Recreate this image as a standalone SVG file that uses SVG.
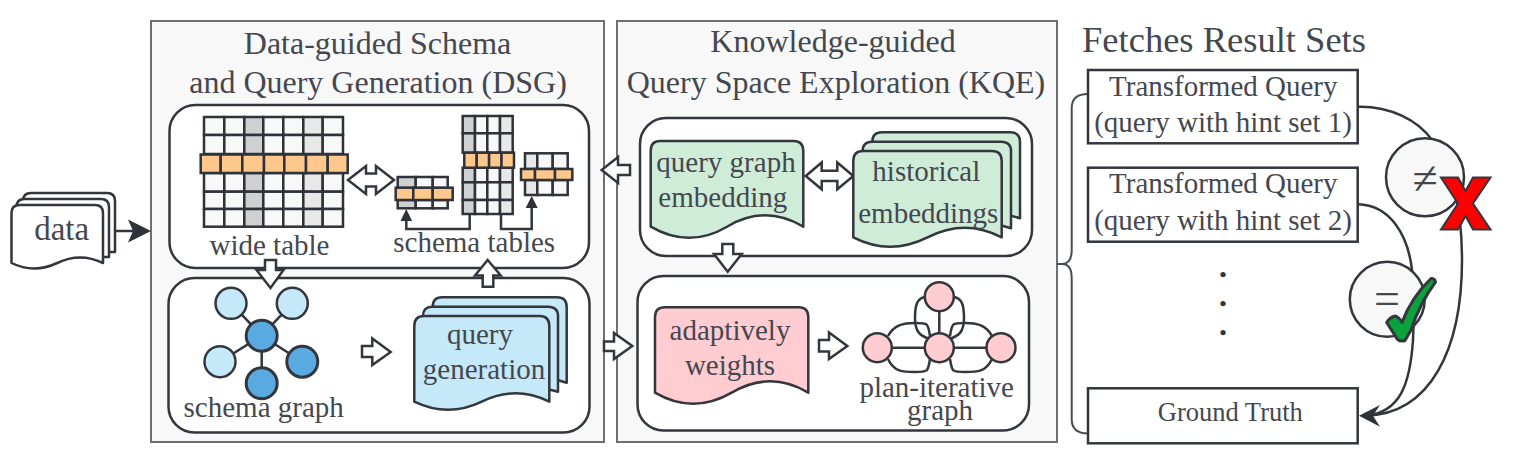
<svg xmlns="http://www.w3.org/2000/svg" width="1530" height="462" viewBox="0 0 1530 462">
<style>
text{font-family:"Liberation Serif","Times New Roman",serif;fill:#45474f;text-anchor:middle;font-size:29px}
.panel{fill:#f8f8f8;stroke:#6e6e73;stroke-width:2}
.box{fill:#fff;stroke:#33363c;stroke-width:2.5}
.blk{fill:#fff;stroke:#33363c;stroke-width:2.5;stroke-linejoin:miter}
.ln{fill:none;stroke:#33363c;stroke-width:2.5}
.hd{fill:#2f3238;stroke:none}
.doc{stroke:#33363c;stroke-width:2.5;stroke-linejoin:round}
.w{fill:#fff}.bl{fill:#c5e9f8}.gr{fill:#ceecd8}.pk{fill:#ffccd2}
.c{fill:#f8f8f8;stroke:#33363c;stroke-width:2.5}
.dk{fill:#5aa9e0;stroke:#33363c;stroke-width:3}
.lt{fill:#c5e9f8;stroke:#33363c;stroke-width:2.5}
.pc{fill:#ffccd2;stroke:#33363c;stroke-width:2.5}
.g{stroke:#2f3238;stroke-width:2.5}
.f0{fill:#f8f8f8}.f1{fill:#d0d0d3}.f2{fill:#e8e8e9}.o{fill:#fec88c}
.rct{fill:#fff;stroke:#33363c;stroke-width:2.5}
.t{font-size:32px}
.dot{font-size:24px;fill:#33363c;stroke:#33363c;stroke-width:2.5}
</style>
<g id="panel-dsg"><rect class="panel" x="151" y="21" width="453" height="421"/>
<text class="t" x="377.500" y="54">Data-guided Schema</text>
<text class="t" x="378" y="93">and Query Generation (DSG)</text></g>
<g id="panel-kqe"><rect class="panel" x="617" y="21" width="440" height="421"/>
<text class="t" x="833" y="52">Knowledge-guided</text>
<text class="t" x="836" y="93">Query Space Exploration (KQE)</text></g>
<g id="box-tables"><rect class="box" x="169.5" y="105" width="419.5" height="163" rx="26"/></g>
<g id="box-graph"><rect class="box" x="168.5" y="278" width="421" height="154.500" rx="26"/></g>
<g id="box-embed"><rect class="box" x="640" y="118" width="392" height="138" rx="26"/></g>
<g id="box-plan"><rect class="box" x="637.500" y="276" width="391.500" height="154.500" rx="26"/></g>
<g id="title-fetch"><text x="1224" y="52" style="font-size:36.500px">Fetches Result Sets</text></g>
<g id="connectors">
<path class="ln" d="M109,231H135"/><path class="hd" d="M151,231L128,219.500L133,231L128,242.500Z"/>
<path class="ln" d="M469.700,214V229H406.300V214"/><path class="hd" d="M406.300,209L400.500,221H412.100Z"/>
<path class="ln" d="M501,214V229H531.700V200"/><path class="hd" d="M531.700,196L525.700,208H537.700Z"/>
<path class="blk" d="M348,180L366,166V173.500H376V166L394,180L376,194V186.500H366V194Z"/>
<path class="blk" d="M265,260H276V270H283.500L270.500,288L256.500,270H265Z"/>
<path class="blk" d="M487.700,260L500.700,275.500H493.300V286.700H482.700V275.500H475Z"/>
<path class="blk" d="M362,346H372.300V338.500L390.700,352L372.300,365V357H362Z"/>
<path class="blk" d="M604,341.500H614V333L632.300,346L614,359V351H604Z"/>
<path class="blk" d="M601.700,170L618,157V165H630V175H618V183Z"/>
<path class="blk" d="M805.700,176L821.700,162.500V170.700H837.300V162.500L853.300,176L837.300,189.300V181H821.700V189.300Z"/>
<path class="blk" d="M722.300,244H733.300V254H741.700L727.700,271.700L714,254H722.300Z"/>
<path class="blk" d="M819,340H829V332.500L847.300,346L829,359V351.500H819Z"/>
<path d="M1057,264H1062C1069,264 1071.700,258 1071.700,250V108C1071.700,99 1077,94 1088,94M1062,264C1069,264 1071.700,270 1071.700,278V419C1071.700,428 1077,433.500 1088,433.500" fill="none" stroke="#4a4c55" stroke-width="2"/>
<path class="ln" d="M1358,106.700C1390,106 1418,120 1432,140C1450,170 1462,200 1462,260C1462,350 1430,414 1366,415.700"/>
<path class="ln" d="M1358,204.300C1390,205 1408,235 1412,270C1414,300 1414,320 1413,340C1410,385 1400,412 1366,415.700"/>
<path class="hd" d="M1359,415.700L1380,405L1373,415.700L1380,426.700Z"/>
</g>
<g id="node-data">
<path class="doc w" d="M23,201Q23,193 31,193H107Q115,193 115,201V252L23,252Z"/>
<path class="doc w" d="M16.500,207Q16.500,199 24.500,199H101Q109,199 109,207V257L16.500,257Z"/>
<path class="doc w" d="M11.500,263V213Q11.500,205 19.500,205H95Q103,205 103,213V263Q80,252 57.250,263Q34,274 11.500,263Z"/>
<text x="61.700" y="239.500" style="font-size:33px">data</text>
</g>
<g id="node-wide-table">
<g class="g">
<rect class="f0" x="204" y="117" width="20.300" height="18"/><rect class="f0" x="224.300" y="117" width="20" height="18"/><rect class="f1" x="244.300" y="117" width="19" height="18"/><rect class="f0" x="263.300" y="117" width="20" height="18"/><rect class="f0" x="283.300" y="117" width="20" height="18"/><rect class="f2" x="303.300" y="117" width="19.400" height="18"/><rect class="f0" x="322.700" y="117" width="20.300" height="18"/>
<rect class="f0" x="204" y="135" width="20.300" height="19"/><rect class="f0" x="224.300" y="135" width="20" height="19"/><rect class="f1" x="244.300" y="135" width="19" height="19"/><rect class="f0" x="263.300" y="135" width="20" height="19"/><rect class="f0" x="283.300" y="135" width="20" height="19"/><rect class="f2" x="303.300" y="135" width="19.400" height="19"/><rect class="f0" x="322.700" y="135" width="20.300" height="19"/>
<rect class="f0" x="204" y="173" width="20.300" height="18.700"/><rect class="f0" x="224.300" y="173" width="20" height="18.700"/><rect class="f1" x="244.300" y="173" width="19" height="18.700"/><rect class="f0" x="263.300" y="173" width="20" height="18.700"/><rect class="f0" x="283.300" y="173" width="20" height="18.700"/><rect class="f2" x="303.300" y="173" width="19.400" height="18.700"/><rect class="f0" x="322.700" y="173" width="20.300" height="18.700"/>
<rect class="f0" x="204" y="191.700" width="20.300" height="17.300"/><rect class="f0" x="224.300" y="191.700" width="20" height="17.300"/><rect class="f1" x="244.300" y="191.700" width="19" height="17.300"/><rect class="f0" x="263.300" y="191.700" width="20" height="17.300"/><rect class="f0" x="283.300" y="191.700" width="20" height="17.300"/><rect class="f2" x="303.300" y="191.700" width="19.400" height="17.300"/><rect class="f0" x="322.700" y="191.700" width="20.300" height="17.300"/>
<rect class="f0" x="204" y="209" width="20.300" height="17.700"/><rect class="f0" x="224.300" y="209" width="20" height="17.700"/><rect class="f1" x="244.300" y="209" width="19" height="17.700"/><rect class="f0" x="263.300" y="209" width="20" height="17.700"/><rect class="f0" x="283.300" y="209" width="20" height="17.700"/><rect class="f2" x="303.300" y="209" width="19.400" height="17.700"/><rect class="f0" x="322.700" y="209" width="20.300" height="17.700"/>
<rect class="o" x="200.700" y="154.500" width="20" height="18.500"/><rect class="o" x="220.700" y="154.500" width="21.600" height="18.500"/><rect class="o" x="242.300" y="154.500" width="21.700" height="18.500"/><rect class="o" x="264" y="154.500" width="20.300" height="18.500"/><rect class="o" x="284.300" y="154.500" width="21.700" height="18.500"/><rect class="o" x="306" y="154.500" width="21.700" height="18.500"/><rect class="o" x="327.700" y="154.500" width="20" height="18.500"/>
</g>
<text x="269.500" y="254.500">wide table</text>
</g>
<g id="node-schema-tables">
<g class="g">
<rect class="f1" x="462.700" y="116" width="12.300" height="17.300"/><rect class="f0" x="475" y="116" width="12.300" height="17.300"/><rect class="f0" x="487.300" y="116" width="12.700" height="17.300"/><rect class="f2" x="500" y="116" width="12.700" height="17.300"/>
<rect class="f1" x="462.700" y="133.300" width="12.300" height="19.400"/><rect class="f0" x="475" y="133.300" width="12.300" height="19.400"/><rect class="f0" x="487.300" y="133.300" width="12.700" height="19.400"/><rect class="f2" x="500" y="133.300" width="12.700" height="19.400"/>
<rect class="f1" x="462.700" y="167.700" width="12.300" height="14.600"/><rect class="f0" x="475" y="167.700" width="12.300" height="14.600"/><rect class="f0" x="487.300" y="167.700" width="12.700" height="14.600"/><rect class="f2" x="500" y="167.700" width="12.700" height="14.600"/>
<rect class="f1" x="462.700" y="182.300" width="12.300" height="17.700"/><rect class="f0" x="475" y="182.300" width="12.300" height="17.700"/><rect class="f0" x="487.300" y="182.300" width="12.700" height="17.700"/><rect class="f2" x="500" y="182.300" width="12.700" height="17.700"/>
<rect class="f1" x="462.700" y="200" width="12.300" height="14"/><rect class="f0" x="475" y="200" width="12.300" height="14"/><rect class="f0" x="487.300" y="200" width="12.700" height="14"/><rect class="f2" x="500" y="200" width="12.700" height="14"/>
<rect class="o" x="464.300" y="152.700" width="12.400" height="15"/><rect class="o" x="476.700" y="152.700" width="12.400" height="15"/><rect class="o" x="489.100" y="152.700" width="12.400" height="15"/><rect class="o" x="501.500" y="152.700" width="12.500" height="15"/>
<rect class="f1" x="397.700" y="177" width="18" height="11"/><rect class="f0" x="415.700" y="177" width="17" height="11"/><rect class="f0" x="432.700" y="177" width="15" height="11"/>
<rect class="f1" x="397.700" y="200" width="18" height="8.300"/><rect class="f0" x="415.700" y="200" width="17" height="8.300"/><rect class="f0" x="432.700" y="200" width="15" height="8.300"/>
<rect class="o" x="395.700" y="187.700" width="17.600" height="12.300"/><rect class="o" x="413.300" y="187.700" width="19.400" height="12.300"/><rect class="o" x="432.700" y="187.700" width="20" height="12.300"/>
<rect class="f2" x="525" y="153.300" width="12.300" height="15.700"/><rect class="f0" x="537.300" y="153.300" width="15.400" height="15.700"/><rect class="f0" x="552.700" y="153.300" width="15" height="15.700"/>
<rect class="f2" x="525" y="180" width="12.300" height="15"/><rect class="f0" x="537.300" y="180" width="15.400" height="15"/><rect class="f0" x="552.700" y="180" width="15" height="15"/>
<rect class="o" x="521" y="169" width="14" height="11"/><rect class="o" x="535" y="169" width="20" height="11"/><rect class="o" x="555" y="169" width="17.300" height="11"/>
</g>
<text x="474.200" y="252">schema tables</text>
</g>
<g id="node-schema-graph">
<path class="ln" d="M261.700,335.700L231,303.300M261.700,335.700L292.300,303.300M261.700,335.700L220,361.700M261.700,335.700L302.300,361.700M261.700,335.700V383.300"/>
<circle class="lt" cx="231" cy="303.300" r="15.500"/><circle class="lt" cx="292.300" cy="303.300" r="15.500"/><circle class="lt" cx="220" cy="361.700" r="15.500"/>
<circle class="dk" cx="302.300" cy="361.700" r="15.500"/><circle class="dk" cx="261.700" cy="383.300" r="15.500"/><circle class="dk" cx="261.700" cy="335.700" r="15.500"/>
<text x="263.700" y="416.500">schema graph</text>
</g>
<g id="node-query-generation">
<path class="doc bl" d="M432.700,307Q432.700,297.300 442,297.300H557Q566.700,297.300 566.700,307V382.700L530,372L432.700,372Z"/>
<path class="doc bl" d="M423,316Q423,306.700 432,306.700H548Q558,306.700 558,316V391.700L520,382L423,382Z"/>
<path class="doc bl" d="M414.300,401.700V326Q414.300,316 424,316H539.500Q549.300,316 549.300,326V401.700Q515,385 481.800,401.700Q448,418 414.300,401.700Z"/>
<text x="480" y="343.500">query</text><text x="484" y="379">generation</text>
</g>
<g id="node-query-graph-embedding">
<path class="doc gr" d="M650.700,226.700V151Q650.700,141 660,141H793.500Q803.300,141 803.300,151V226.700Q765,204 727,226.700Q689,249 650.700,226.700Z"/>
<text x="726" y="171.700">query graph</text><text x="722.800" y="207">embedding</text>
</g>
<g id="node-historical-embeddings">
<path class="doc gr" d="M872.300,142Q872.300,132.300 882,132.300H1010Q1020,132.300 1020,142V218.300L985,208L872.300,208Z"/>
<path class="doc gr" d="M862.700,151Q862.700,141.700 872,141.700H1001Q1011,141.700 1011,151V228.300L975,218L862.700,218Z"/>
<path class="doc gr" d="M853.300,237.300V161Q853.300,151 863,151H992Q1001.700,151 1001.700,161V237.300Q965,218 927.500,237.300Q890,256 853.300,237.300Z"/>
<text x="926.300" y="181">historical</text><text x="928.300" y="223">embeddings</text>
</g>
<g id="node-adaptively-weights">
<path class="doc pk" d="M655,392.700V317Q655,307.300 665,307.300H798.500Q808.300,307.300 808.300,317V392.700Q770,370 731.700,392.700Q693,415 655,392.700Z"/>
<text x="730" y="339.500">adaptively</text><text x="730" y="374.500">weights</text>
</g>
<g id="node-plan-iterative-graph">
<path class="ln" d="M877.300,347.700H1001M939.300,296.700V347.700"/>
<path class="ln" d="M888,336C894,325 903,323 915,323C928,323 928,323 930,336M888,359C894,372 903,372 915,372C928,372 928,372 930,359M950,336C952,323 952,323 965,323C977,323 986,325 992,336M950,359C952,372 952,372 965,372C977,372 986,372 992,359"/>
<path class="ln" d="M927,296.700C917,297 915,305 915,318C915,332 920,336 930,339M952,296.700C962,297 964,305 964,318C964,332 959,336 949,339"/>
<circle class="pc" cx="939.300" cy="296.700" r="14.500"/><circle class="pc" cx="877.300" cy="347.700" r="14.500"/><circle class="pc" cx="939.300" cy="347.700" r="14.500"/><circle class="pc" cx="1001" cy="347.700" r="14.500"/>
<text><tspan x="936.700" y="396.700">plan-iterative</tspan><tspan x="940" y="420">graph</tspan></text>
</g>
<g id="node-query1"><rect class="rct" x="1088" y="70" width="269.700" height="73.300"/>
<text x="1223.300" y="96">Transformed Query</text><text x="1223" y="131.700">(query with hint set 1)</text></g>
<g id="node-query2"><rect class="rct" x="1088" y="167.700" width="269.700" height="74"/>
<text x="1223.300" y="193.300">Transformed Query</text><text x="1223" y="230">(query with hint set 2)</text></g>
<g id="node-ellipsis"><text class="dot" x="1223" y="275.600">.</text><text class="dot" x="1223" y="304.600">.</text><text class="dot" x="1223" y="333.600">.</text></g>
<g id="node-ground-truth"><rect class="rct" x="1088" y="388.300" width="269.700" height="55"/>
<text x="1230.300" y="421" style="font-size:26.500px">Ground Truth</text></g>
<g id="node-neq"><circle class="c" cx="1425" cy="177.300" r="39"/><text x="1425" y="194" style="font-size:46px">≠</text>
<path d="M1441,177.500H1458L1465.500,191L1473,177.500H1490.500L1473,203.500L1490.500,229.500H1473L1465.500,216L1458,229.500H1441L1458,203.500Z" fill="#f00" stroke="#33363c" stroke-width="2"/></g>
<g id="node-eq"><circle class="c" cx="1387.300" cy="299.300" r="37.500"/><text x="1387" y="314" style="font-size:46px">=</text>
<path d="M1386.700,322.500Q1390,317 1395.500,316Q1400,318 1402,322.500C1408,306 1418,291 1431,278.500Q1435,278.500 1435.500,282C1425,296 1416,315 1410.500,331L1405,340.500Q1401,342 1397.500,339.500Z" fill="#0aa23c" stroke="#33363c" stroke-width="3" stroke-linejoin="round"/></g>
</svg>
